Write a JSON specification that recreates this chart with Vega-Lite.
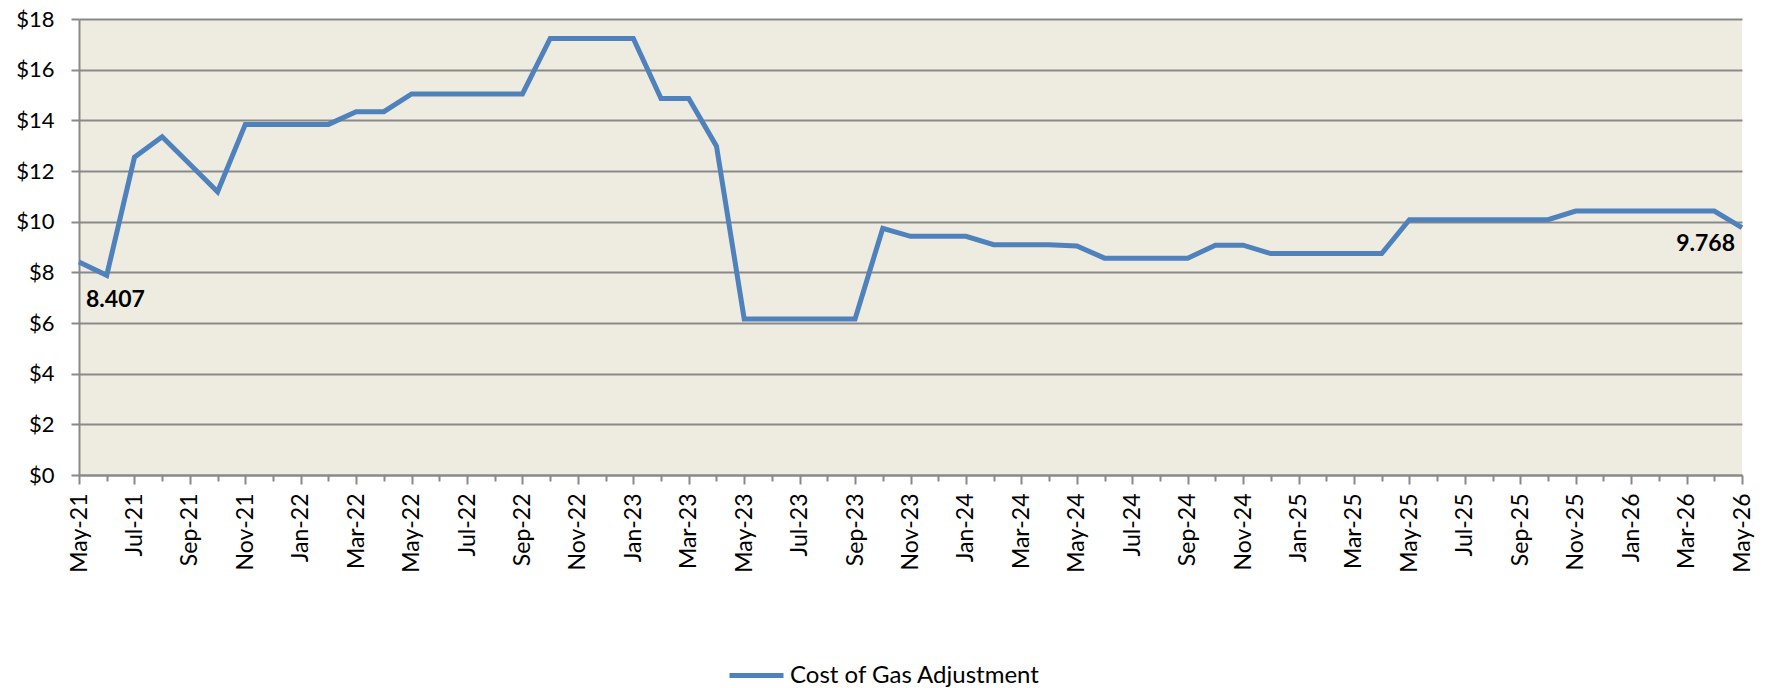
{
  "$schema": "https://vega.github.io/schema/vega-lite/v6.json",
  "width": 1663,
  "height": 456,
  "autosize": {"type": "none"},
  "padding": {"left": 79, "top": 19, "right": 25, "bottom": 213},
  "background": "white",
  "config": {
    "view": {"fill": "#EEECE1", "stroke": null},
    "font": "Lato"
  },
  "data": {
    "values": [
      {"month": "May-21", "value": 8.407, "series": "Cost of Gas Adjustment"},
      {"month": "Jun-21", "value": 7.88, "series": "Cost of Gas Adjustment"},
      {"month": "Jul-21", "value": 12.54, "series": "Cost of Gas Adjustment"},
      {"month": "Aug-21", "value": 13.35, "series": "Cost of Gas Adjustment"},
      {"month": "Sep-21", "value": 12.27, "series": "Cost of Gas Adjustment"},
      {"month": "Oct-21", "value": 11.18, "series": "Cost of Gas Adjustment"},
      {"month": "Nov-21", "value": 13.84, "series": "Cost of Gas Adjustment"},
      {"month": "Dec-21", "value": 13.84, "series": "Cost of Gas Adjustment"},
      {"month": "Jan-22", "value": 13.84, "series": "Cost of Gas Adjustment"},
      {"month": "Feb-22", "value": 13.84, "series": "Cost of Gas Adjustment"},
      {"month": "Mar-22", "value": 14.34, "series": "Cost of Gas Adjustment"},
      {"month": "Apr-22", "value": 14.34, "series": "Cost of Gas Adjustment"},
      {"month": "May-22", "value": 15.04, "series": "Cost of Gas Adjustment"},
      {"month": "Jun-22", "value": 15.04, "series": "Cost of Gas Adjustment"},
      {"month": "Jul-22", "value": 15.04, "series": "Cost of Gas Adjustment"},
      {"month": "Aug-22", "value": 15.04, "series": "Cost of Gas Adjustment"},
      {"month": "Sep-22", "value": 15.04, "series": "Cost of Gas Adjustment"},
      {"month": "Oct-22", "value": 17.23, "series": "Cost of Gas Adjustment"},
      {"month": "Nov-22", "value": 17.23, "series": "Cost of Gas Adjustment"},
      {"month": "Dec-22", "value": 17.23, "series": "Cost of Gas Adjustment"},
      {"month": "Jan-23", "value": 17.23, "series": "Cost of Gas Adjustment"},
      {"month": "Feb-23", "value": 14.86, "series": "Cost of Gas Adjustment"},
      {"month": "Mar-23", "value": 14.86, "series": "Cost of Gas Adjustment"},
      {"month": "Apr-23", "value": 12.98, "series": "Cost of Gas Adjustment"},
      {"month": "May-23", "value": 6.16, "series": "Cost of Gas Adjustment"},
      {"month": "Jun-23", "value": 6.16, "series": "Cost of Gas Adjustment"},
      {"month": "Jul-23", "value": 6.16, "series": "Cost of Gas Adjustment"},
      {"month": "Aug-23", "value": 6.16, "series": "Cost of Gas Adjustment"},
      {"month": "Sep-23", "value": 6.16, "series": "Cost of Gas Adjustment"},
      {"month": "Oct-23", "value": 9.74, "series": "Cost of Gas Adjustment"},
      {"month": "Nov-23", "value": 9.42, "series": "Cost of Gas Adjustment"},
      {"month": "Dec-23", "value": 9.42, "series": "Cost of Gas Adjustment"},
      {"month": "Jan-24", "value": 9.42, "series": "Cost of Gas Adjustment"},
      {"month": "Feb-24", "value": 9.09, "series": "Cost of Gas Adjustment"},
      {"month": "Mar-24", "value": 9.09, "series": "Cost of Gas Adjustment"},
      {"month": "Apr-24", "value": 9.09, "series": "Cost of Gas Adjustment"},
      {"month": "May-24", "value": 9.04, "series": "Cost of Gas Adjustment"},
      {"month": "Jun-24", "value": 8.56, "series": "Cost of Gas Adjustment"},
      {"month": "Jul-24", "value": 8.56, "series": "Cost of Gas Adjustment"},
      {"month": "Aug-24", "value": 8.56, "series": "Cost of Gas Adjustment"},
      {"month": "Sep-24", "value": 8.56, "series": "Cost of Gas Adjustment"},
      {"month": "Oct-24", "value": 9.07, "series": "Cost of Gas Adjustment"},
      {"month": "Nov-24", "value": 9.07, "series": "Cost of Gas Adjustment"},
      {"month": "Dec-24", "value": 8.74, "series": "Cost of Gas Adjustment"},
      {"month": "Jan-25", "value": 8.74, "series": "Cost of Gas Adjustment"},
      {"month": "Feb-25", "value": 8.74, "series": "Cost of Gas Adjustment"},
      {"month": "Mar-25", "value": 8.74, "series": "Cost of Gas Adjustment"},
      {"month": "Apr-25", "value": 8.74, "series": "Cost of Gas Adjustment"},
      {"month": "May-25", "value": 10.08, "series": "Cost of Gas Adjustment"},
      {"month": "Jun-25", "value": 10.08, "series": "Cost of Gas Adjustment"},
      {"month": "Jul-25", "value": 10.08, "series": "Cost of Gas Adjustment"},
      {"month": "Aug-25", "value": 10.08, "series": "Cost of Gas Adjustment"},
      {"month": "Sep-25", "value": 10.08, "series": "Cost of Gas Adjustment"},
      {"month": "Oct-25", "value": 10.08, "series": "Cost of Gas Adjustment"},
      {"month": "Nov-25", "value": 10.42, "series": "Cost of Gas Adjustment"},
      {"month": "Dec-25", "value": 10.42, "series": "Cost of Gas Adjustment"},
      {"month": "Jan-26", "value": 10.42, "series": "Cost of Gas Adjustment"},
      {"month": "Feb-26", "value": 10.42, "series": "Cost of Gas Adjustment"},
      {"month": "Mar-26", "value": 10.42, "series": "Cost of Gas Adjustment"},
      {"month": "Apr-26", "value": 10.42, "series": "Cost of Gas Adjustment"},
      {"month": "May-26", "value": 9.768, "series": "Cost of Gas Adjustment"}
    ]
  },
  "encoding": {
    "x": {
      "field": "month",
      "type": "ordinal",
      "sort": null,
      "scale": {"type": "point", "padding": 0},
      "axis": {
        "title": null,
        "labelAngle": -90,
        "labelFont": "Lato",
        "labelFontSize": 23,
        "labelColor": "#000000",
        "labelPadding": 9,
        "labelExpr": "test(/^(Jan|Mar|May|Jul|Sep|Nov)/, datum.label) ? datum.label : ''",
        "labelOverlap": false,
        "labelLimit": 0,
        "domainColor": "#898989",
        "domainWidth": 2,
        "tickColor": "#898989",
        "tickWidth": 2,
        "tickSize": {"condition": {"test": "test(/^(Jan|Mar|May|Jul|Sep|Nov)/, datum.value)", "value": 9}, "value": 6},
        "grid": false
      }
    },
    "y": {
      "field": "value",
      "type": "quantitative",
      "scale": {"domain": [0, 18], "nice": false},
      "axis": {
        "title": null,
        "values": [0, 2, 4, 6, 8, 10, 12, 14, 16, 18],
        "labelExpr": "'$' + datum.value",
        "labelFont": "Lato",
        "labelFontSize": 22,
        "labelColor": "#000000",
        "labelPadding": 17,
        "tickSize": 8,
        "tickColor": "#898989",
        "tickWidth": 2,
        "domainColor": "#898989",
        "domainWidth": 2,
        "grid": true,
        "gridColor": "#898989",
        "gridWidth": 2
      }
    }
  },
  "layer": [
    {
      "mark": {"type": "line", "strokeWidth": 5},
      "encoding": {
        "color": {
          "field": "series",
          "type": "nominal",
          "scale": {"range": ["#4F81BD"]},
          "legend": {
            "title": null,
            "orient": "none",
            "legendX": 648,
            "legendY": 627,
            "symbolType": "stroke",
            "symbolStrokeWidth": 5,
            "symbolSize": 2916,
            "labelFont": "Lato",
            "labelFontSize": 24,
            "labelLimit": 0,
            "labelColor": "#000000",
            "labelOffset": 4
          }
        }
      }
    },
    {
      "transform": [{"filter": "datum.month == 'May-21'"}],
      "mark": {"type": "text", "align": "left", "baseline": "middle", "dx": 7, "dy": 38, "fontSize": 23, "fontWeight": "bold", "font": "Lato", "color": "#000000"},
      "encoding": {"text": {"field": "value", "type": "quantitative", "format": ".3f"}}
    },
    {
      "transform": [{"filter": "datum.month == 'May-26'"}],
      "mark": {"type": "text", "align": "right", "baseline": "middle", "dx": -7, "dy": 16, "fontSize": 23, "fontWeight": "bold", "font": "Lato", "color": "#000000"},
      "encoding": {"text": {"field": "value", "type": "quantitative", "format": ".3f"}}
    }
  ]
}
